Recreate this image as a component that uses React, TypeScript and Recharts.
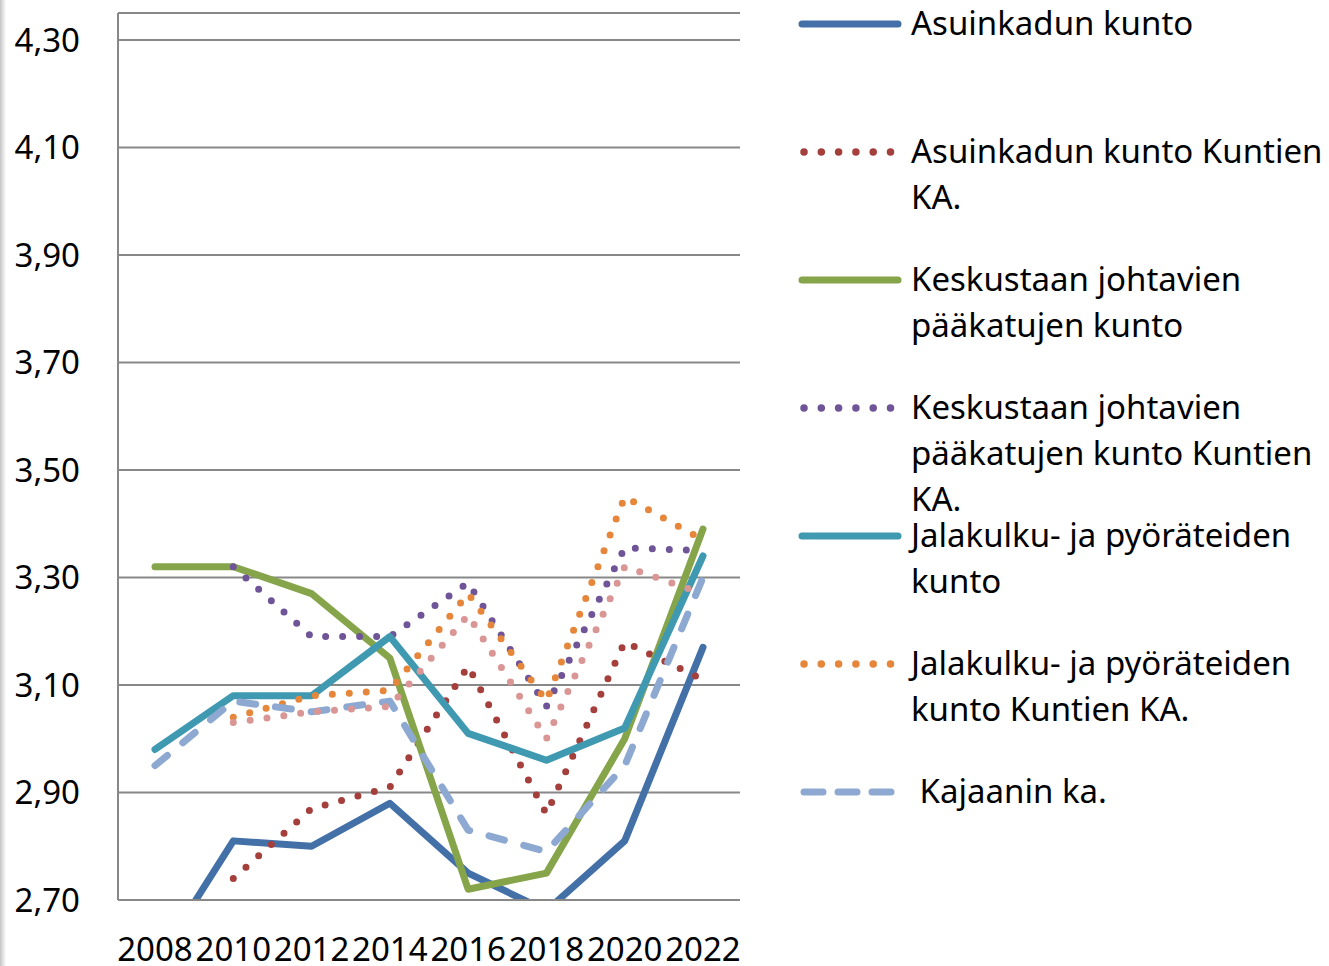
import React from "react";
import { LineChart, Line, XAxis, YAxis, CartesianGrid } from "recharts";

// years on the x axis
const years = ["2008", "2010", "2012", "2014", "2016", "2018", "2020", "2022"];

// series values (null = no value)
const asuinkatu = [2.58, 2.81, 2.8, 2.88, 2.75, 2.68, 2.81, 3.17];
const asuinkatuKa = [null, 2.74, 2.87, 2.91, 3.135, 2.86, 3.18, 3.11];
const paakatu = [3.32, 3.32, 3.27, 3.15, 2.72, 2.75, 3.0, 3.39];
const paakatuKa = [null, 3.32, 3.19, 3.19, 3.29, 3.06, 3.355, 3.35];
const jalankulku = [2.98, 3.08, 3.08, 3.19, 3.01, 2.96, 3.02, 3.34];
const jalankulkuKa = [null, 3.04, 3.08, 3.09, 3.27, 3.07, 3.45, 3.37];
const kajaani = [2.95, 3.07, 3.05, 3.07, 2.83, 2.79, 2.95, 3.3];
const muuKa = [null, 3.03, 3.05, 3.06, 3.23, 3.0, 3.32, 3.27];

const yTicks = [2.7, 2.9, 3.1, 3.3, 3.5, 3.7, 3.9, 4.1, 4.3];

type Style = "solid" | "dot" | "dash";

const series: { key: string; name: string[]; color: string; style: Style; values: (number | null)[]; legend: boolean }[] = [
    { key: "s1", name: ["Asuinkadun kunto"], color: "#4470a8", style: "solid", values: asuinkatu, legend: true },
    { key: "s2", name: ["Asuinkadun kunto Kuntien", "KA."], color: "#a53f3c", style: "dot", values: asuinkatuKa, legend: true },
    { key: "s3", name: ["Keskustaan johtavien", "pääkatujen kunto"], color: "#86a44a", style: "solid", values: paakatu, legend: true },
    { key: "s4", name: ["Keskustaan johtavien", "pääkatujen kunto Kuntien", "KA."], color: "#6f5597", style: "dot", values: paakatuKa, legend: true },
    { key: "s5", name: ["Jalakulku- ja pyöräteiden", "kunto"], color: "#3f99b1", style: "solid", values: jalankulku, legend: true },
    { key: "s6", name: ["Jalakulku- ja pyöräteiden", "kunto Kuntien KA."], color: "#e5863a", style: "dot", values: jalankulkuKa, legend: true },
    { key: "s7", name: [" Kajaanin ka."], color: "#8ea9d1", style: "dash", values: kajaani, legend: true },
    { key: "s8", name: ["Kuntien KA."], color: "#d99694", style: "dot", values: muuKa, legend: false },
];

const chartData = years.map((year, i) => {
    const row: Record<string, string | number | null> = { year };
    series.forEach((s) => {
        row[s.key] = s.values[i];
    });
    return row;
});

const FONT = "'Noto Sans', sans-serif";

function dashFor(style: Style) {
    if (style === "dot") return "0 17";
    if (style === "dash") return "16 20";
    return undefined;
}

function LegendSample({ color, style }: { color: string; style: Style }) {
    return (
        <svg width={106} height={14} style={{ position: "absolute", left: 797, top: 0 }}>
            {style === "solid" && (
                <line x1={5} y1={7} x2={101} y2={7} stroke={color} strokeWidth={7} strokeLinecap="round" />
            )}
            {style === "dot" && (
                <line x1={7} y1={7} x2={94} y2={7} stroke={color} strokeWidth={7.5} strokeLinecap="round" strokeDasharray="0 17.3" />
            )}
            {style === "dash" && (
                <line x1={7} y1={7} x2={100} y2={7} stroke={color} strokeWidth={7} strokeLinecap="round" strokeDasharray="19 15" />
            )}
        </svg>
    );
}

export default function App() {
    return (
        <div style={{ position: "absolute", left: 0, top: 0, width: 1329, height: 966, background: "#fff", fontFamily: FONT }}>
            <div
                style={{
                    position: "absolute",
                    left: 0,
                    top: 0,
                    width: 6,
                    height: 966,
                    background: "linear-gradient(to right, #c4c4c4, #ffffff)",
                }}
            />
            <LineChart width={750} height={966} data={chartData} margin={{ top: 13, right: 10, bottom: 0, left: 0 }}>
                <CartesianGrid vertical={false} stroke="#888" strokeWidth={2} />
                <XAxis
                    dataKey="year"
                    interval={0}
                    height={66}
                    padding={{ left: 37, right: 37 }}
                    tickLine={false}
                    tickMargin={32}
                    axisLine={{ stroke: "#888", strokeWidth: 2 }}
                    tick={{ fill: "#000", fontSize: 33, fontFamily: FONT }}
                />
                <YAxis
                    width={118}
                    domain={[2.7, 4.35]}
                    ticks={yTicks}
                    allowDataOverflow
                    interval={0}
                    tickLine={false}
                    tickMargin={32}
                    axisLine={{ stroke: "#888", strokeWidth: 2 }}
                    tick={{ fill: "#000", fontSize: 33, fontFamily: FONT }}
                    tickFormatter={(v: number) => v.toFixed(2).replace(".", ",")}
                />
                {series.map((s) => (
                    <Line
                        key={s.key}
                        dataKey={s.key}
                        name={s.name.join(" ")}
                        type="linear"
                        stroke={s.color}
                        strokeWidth={7}
                        strokeDasharray={dashFor(s.style)}
                        strokeLinecap="round"
                        strokeLinejoin="round"
                        dot={false}
                        activeDot={false}
                        isAnimationActive={false}
                    />
                ))}
            </LineChart>
            {series
                .filter((s) => s.legend)
                .map((s, i) => (
                    <div key={s.key} style={{ position: "absolute", left: 0, top: i * 128, width: 1329 }}>
                        <div style={{ position: "absolute", left: 0, top: 17 }}>
                            <LegendSample color={s.color} style={s.style} />
                        </div>
                        <div
                            style={{
                                position: "absolute",
                                left: 911,
                                top: 0,
                                fontSize: 33,
                                lineHeight: "46px",
                                color: "#000",
                                whiteSpace: "pre",
                            }}
                        >
                            {s.name.map((line, j) => (
                                <div key={j}>{line}</div>
                            ))}
                        </div>
                    </div>
                ))}
        </div>
    );
}
